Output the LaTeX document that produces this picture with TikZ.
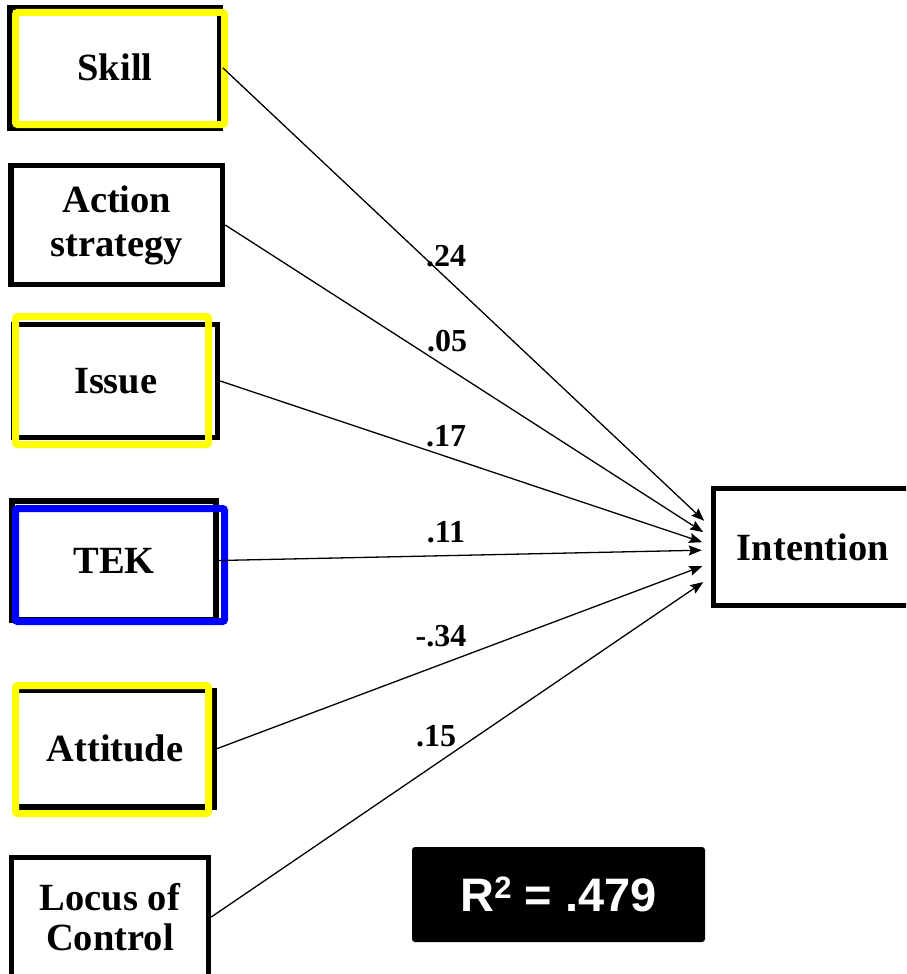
\documentclass[tikz,border=0pt]{standalone}
\usepackage{fontspec}
\setmainfont{Liberation Serif}
\newfontfamily\rsqfont{Liberation Sans}
\usepackage{tikz}
\usetikzlibrary{arrows.meta}
\definecolor{hlyellow}{RGB}{255,255,0}
\definecolor{hlblue}{RGB}{0,0,255}
\newcommand{\boxfont}{\fontsize{38.5}{44}\selectfont\bfseries}
\newcommand{\coeffont}{\fontsize{32}{36}\selectfont\bfseries}

\begin{document}
\begin{tikzpicture}[x=1pt, y=-1pt,
    box/.style={draw, line width=5.5pt, inner sep=0pt, align=center, font=\boxfont},
    coef/.style={inner sep=0pt, font=\coeffont},
    path/.style={line width=1.3pt, -{Stealth[length=13pt,width=10pt,inset=2pt]}, shorten >=9pt},
    hl/.style={line width=7pt, rounded corners=2pt}]
      \clip (0,0) rectangle (906,974);
      \fill[white] (0,0) rectangle (906,974);
      % predictors
      \node[box, minimum width=210,   minimum height=120.5] (skill)    at (115,67.75)   {Skill};
      \node[box, minimum width=211.5, minimum height=119]   (action)   at (116.75,225)  {Action\\strategy};
      \node[box, minimum width=203.5, minimum height=113]   (issue)    at (115.75,381)  {Issue};
      \node[box, minimum width=204,   minimum height=119]   (tek)      at (114,560.5)   {TEK};
      \node[box, minimum width=198,   minimum height=116.5] (attitude) at (115,748.75)  {Attitude};
      \node[box, minimum width=197,   minimum height=119, font=\fontsize{38.5}{40}\selectfont\bfseries]
                                                            (locus)    at (110,917)     {Locus of\\Control};
      % outcome
      \node[box, minimum width=198.5, minimum height=117]   (intention) at (812.75,547) {Intention};
      % highlights
      \draw[hl, hlyellow] (15.5,12.5)  rectangle (224.5,124.5);
      \draw[hl, hlyellow] (15.5,316.5) rectangle (208.5,444.5);
      \draw[hl, hlblue]   (15.5,508.5) rectangle (224.5,621.5);
      \draw[hl, hlyellow] (15.5,685.5) rectangle (208.5,813.5);
      % paths
      \draw[path] (skill.east)    -- ([yshift=20pt]intention.west);
      \draw[path] (action.east)   -- ([yshift=10pt]intention.west);
      \draw[path] (issue.east)    -- ([yshift=2pt]intention.west);
      \draw[path] (tek.east)      -- ([yshift=-3pt]intention.west);
      \draw[path] (attitude.east) -- ([yshift=-16pt]intention.west);
      \draw[path] (locus.east)    -- ([yshift=-30pt]intention.west);
      \node[coef] (c1) at (446,256) {.24};
      \node[coef] (c2) at (447,341) {.05};
      \node[coef] (c3) at (446,436) {.17};
      \node[coef] (c4) at (446,532) {.11};
      \node[coef] (c5) at (441,636) {-.34};
      \node[coef] (c6) at (436,736) {.15};
      % explained variance
      \node[fill=black, rounded corners=3pt, minimum width=293, minimum height=95, inner sep=0pt,
            text=white, font=\rsqfont\fontsize{47}{50}\selectfont\bfseries] (rsq) at (558.5,894.5)
            {R\raisebox{13pt}{\fontsize{31}{31}\selectfont 2} = .479};
    \end{tikzpicture}
\end{document}
